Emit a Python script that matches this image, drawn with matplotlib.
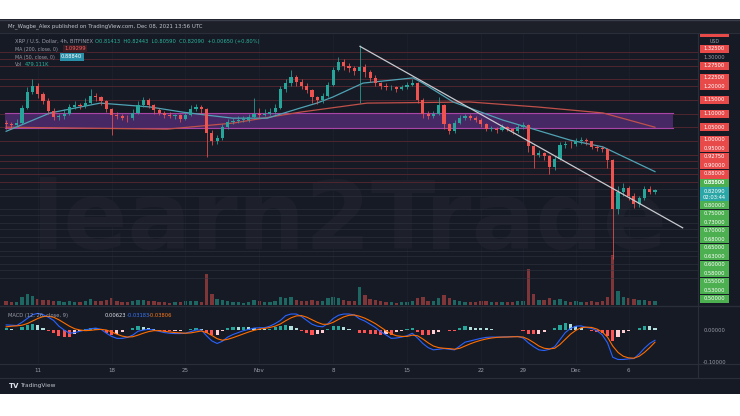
import numpy as np
import pandas as pd
import matplotlib
matplotlib.use('Agg')
import matplotlib.pyplot as plt
import matplotlib.dates as mdates
from matplotlib.patches import Rectangle

# ------------------------------------------------------------------ data
first_open = 1.065
closes = [1.060, 1.057, 1.067, 1.120, 1.180, 1.200, 1.170, 1.145, 1.110, 1.088,
          1.090, 1.100, 1.122, 1.130, 1.128, 1.140, 1.165, 1.160, 1.145, 1.115,
          1.096, 1.090, 1.085, 1.082, 1.103, 1.130, 1.148, 1.130, 1.112, 1.103,
          1.095, 1.092, 1.093, 1.080, 1.095, 1.115, 1.124, 1.118, 1.030, 0.998,
          1.010, 1.050, 1.070, 1.073, 1.077, 1.078, 1.088, 1.100, 1.096, 1.100,
          1.105, 1.120, 1.190, 1.210, 1.235, 1.215, 1.200, 1.185, 1.160, 1.148,
          1.165, 1.205, 1.260, 1.288, 1.275, 1.265, 1.255, 1.270, 1.250, 1.230,
          1.210, 1.200, 1.195, 1.195, 1.190, 1.196, 1.205, 1.210, 1.150, 1.100,
          1.092, 1.098, 1.130, 1.060, 1.035, 1.065, 1.085, 1.090, 1.085, 1.078,
          1.060, 1.045, 1.045, 1.040, 1.050, 1.042, 1.035, 1.052, 1.058, 0.980,
          0.950, 0.955, 0.945, 0.905, 0.935, 0.985, 0.990, 0.987, 1.000, 1.003,
          0.998, 0.978, 0.975, 0.972, 0.930, 0.750, 0.815, 0.830, 0.800, 0.770,
          0.790, 0.825, 0.815, 0.8209]
highs = [1.075, 1.070, 1.080, 1.130, 1.195, 1.226, 1.210, 1.180, 1.155, 1.120,
         1.100, 1.115, 1.135, 1.145, 1.140, 1.155, 1.190, 1.175, 1.165, 1.150,
         1.120, 1.105, 1.100, 1.095, 1.115, 1.145, 1.160, 1.155, 1.135, 1.120,
         1.110, 1.105, 1.100, 1.098, 1.105, 1.130, 1.135, 1.130, 1.120, 1.040,
         1.020, 1.060, 1.080, 1.085, 1.090, 1.090, 1.100, 1.155, 1.120, 1.115,
         1.120, 1.135, 1.200, 1.225, 1.260, 1.240, 1.225, 1.210, 1.190, 1.165,
         1.175, 1.215, 1.270, 1.305, 1.300, 1.285, 1.275, 1.350, 1.280, 1.260,
         1.240, 1.215, 1.210, 1.205, 1.200, 1.205, 1.215, 1.225, 1.215, 1.155,
         1.110, 1.110, 1.160, 1.135, 1.065, 1.075, 1.095, 1.100, 1.098, 1.092,
         1.085, 1.065, 1.055, 1.050, 1.060, 1.055, 1.048, 1.060, 1.068, 1.060,
         0.985, 0.968, 0.960, 0.950, 0.945, 0.995, 1.000, 1.000, 1.012, 1.015,
         1.010, 1.000, 0.985, 0.982, 0.975, 0.935, 0.835, 0.845, 0.835, 0.810,
         0.800, 0.835, 0.835, 0.8244]
lows = [1.045, 1.045, 1.050, 1.060, 1.115, 1.170, 1.155, 1.135, 1.100, 1.075,
        1.075, 1.080, 1.095, 1.115, 1.115, 1.120, 1.135, 1.145, 1.130, 1.105,
        1.020, 1.080, 1.075, 1.070, 1.078, 1.100, 1.125, 1.120, 1.100, 1.095,
        1.085, 1.085, 1.080, 1.070, 1.075, 1.090, 1.110, 1.100, 0.940, 0.985,
        0.990, 1.005, 1.045, 1.060, 1.065, 1.070, 1.070, 1.085, 1.085, 1.090,
        1.095, 1.100, 1.115, 1.180, 1.200, 1.200, 1.190, 1.175, 1.140, 1.135,
        1.140, 1.160, 1.200, 1.255, 1.260, 1.250, 1.240, 1.140, 1.235, 1.215,
        1.200, 1.190, 1.185, 1.185, 1.180, 1.185, 1.190, 1.200, 1.140, 1.085,
        1.080, 1.085, 1.095, 1.045, 1.025, 1.030, 1.060, 1.078, 1.075, 1.070,
        1.050, 1.035, 1.035, 1.030, 1.035, 1.035, 1.025, 1.030, 1.045, 0.960,
        0.900, 0.940, 0.930, 0.880, 0.895, 0.930, 0.975, 0.975, 0.980, 0.990,
        0.985, 0.970, 0.965, 0.960, 0.900, 0.570, 0.735, 0.800, 0.785, 0.755,
        0.760, 0.785, 0.805, 0.8059]
volumes = [30, 25, 28, 70, 90, 75, 50, 40, 45, 35,
           30, 28, 30, 25, 22, 30, 50, 35, 30, 40,
           60, 30, 25, 22, 30, 40, 45, 35, 30, 25,
           22, 20, 22, 25, 30, 35, 30, 28, 260, 90,
           50, 45, 30, 25, 22, 20, 25, 40, 30, 22,
           25, 30, 70, 60, 65, 45, 35, 30, 40, 30,
           35, 55, 70, 60, 45, 35, 30, 150, 80, 50,
           40, 30, 25, 22, 20, 22, 25, 30, 60, 70,
           35, 30, 55, 80, 60, 40, 30, 25, 22, 25,
           30, 35, 25, 22, 25, 22, 25, 30, 35, 300,
           90, 45, 40, 60, 45, 50, 30, 25, 30, 28,
           25, 30, 28, 30, 70, 420, 120, 70, 55, 50,
           40, 45, 35, 30]
macd_line = [0.016, 0.015, 0.014, 0.024, 0.036, 0.048, 0.052, 0.048, 0.040, 0.030,
             0.012, 0.000, -0.010, -0.008, -0.004, 0.000, 0.004, 0.006, 0.002, -0.010,
             -0.020, -0.026, -0.026, -0.023, -0.016, -0.004, 0.000, 0.002, 0.000, -0.004,
             -0.008, -0.010, -0.011, -0.011, -0.010, -0.005, 0.000, 0.000, -0.018, -0.034,
             -0.042, -0.035, -0.022, -0.014, -0.008, -0.002, 0.002, 0.006, 0.007, 0.007,
             0.012, 0.020, 0.030, 0.045, 0.050, 0.050, 0.042, 0.030, 0.018, 0.012,
             0.010, 0.020, 0.036, 0.046, 0.050, 0.050, 0.047, 0.035, 0.028, 0.018,
             0.008, -0.005, -0.015, -0.026, -0.025, -0.022, -0.018, -0.010, -0.025, -0.042,
             -0.055, -0.062, -0.060, -0.058, -0.060, -0.062, -0.050, -0.038, -0.034, -0.030,
             -0.026, -0.023, -0.022, -0.022, -0.022, -0.021, -0.021, -0.020, -0.025, -0.040,
             -0.052, -0.062, -0.064, -0.060, -0.052, -0.030, -0.008, 0.005, 0.012, 0.013,
             0.008, 0.005, -0.002, -0.015, -0.040, -0.085, -0.092, -0.092, -0.090, -0.089,
             -0.075, -0.057, -0.042, -0.032]
signal_line = [0.010, 0.012, 0.013, 0.015, 0.020, 0.028, 0.036, 0.042, 0.043, 0.040,
               0.032, 0.022, 0.012, 0.004, 0.000, -0.002, -0.001, 0.001, 0.002, 0.000,
               -0.006, -0.013, -0.019, -0.022, -0.021, -0.016, -0.010, -0.005, -0.002, -0.002,
               -0.004, -0.006, -0.008, -0.009, -0.010, -0.009, -0.006, -0.003, -0.008, -0.017,
               -0.027, -0.032, -0.029, -0.024, -0.018, -0.012, -0.006, -0.001, 0.003, 0.005,
               0.008, 0.012, 0.019, 0.029, 0.038, 0.044, 0.045, 0.040, 0.032, 0.024,
               0.018, 0.018, 0.024, 0.033, 0.041, 0.046, 0.047, 0.043, 0.037, 0.029,
               0.020, 0.009, -0.002, -0.012, -0.018, -0.020, -0.020, -0.016, -0.018, -0.028,
               -0.040, -0.050, -0.055, -0.057, -0.058, -0.060, -0.057, -0.050, -0.043, -0.037,
               -0.032, -0.028, -0.025, -0.023, -0.022, -0.022, -0.021, -0.021, -0.022, -0.029,
               -0.039, -0.050, -0.057, -0.059, -0.057, -0.045, -0.029, -0.013, -0.001, 0.007,
               0.009, 0.008, 0.003, -0.006, -0.022, -0.050, -0.070, -0.082, -0.087, -0.088,
               -0.082, -0.070, -0.055, -0.038]

ma50_times = ['2021-10-08 00:00', '2021-10-12 04:00', '2021-10-16 22:00', '2021-10-21 15:00',
              '2021-10-24 18:00', '2021-10-27 01:00', '2021-10-29 12:00', '2021-11-01 18:00',
              '2021-11-04 21:00', '2021-11-06 11:00', '2021-11-07 23:00', '2021-11-10 20:00',
              '2021-11-15 14:00', '2021-11-16 12:00', '2021-11-19 09:00', '2021-11-24 02:00',
              '2021-11-26 09:00', '2021-11-30 11:00', '2021-12-03 14:00', '2021-12-08 12:00']
ma50_values = [1.035, 1.102, 1.138, 1.124, 1.105, 1.094, 1.083, 1.083, 1.120, 1.138,
               1.160, 1.211, 1.230, 1.211, 1.142, 1.076, 1.050, 1.003, 0.978, 0.888]
ma200_times = ['2021-10-08 00:00', '2021-10-23 06:00', '2021-10-29 12:00', '2021-11-04 21:00',
               '2021-11-11 05:00', '2021-11-20 23:00', '2021-11-27 08:00', '2021-12-03 14:00',
               '2021-12-08 12:00']
ma200_values = [1.050, 1.043, 1.065, 1.105, 1.138, 1.142, 1.124, 1.102, 1.050]

trend_times = ['2021-11-10 13:00', '2021-12-11 03:00']
trend_prices = [1.345, 0.683]
zone_times = ['2021-10-07 22:00', '2021-12-10 05:00']
zone_low, zone_high = 1.047, 1.102

levels_above = [1.325, 1.30, 1.275, 1.225, 1.20, 1.15, 1.10, 1.05, 1.00, 0.95,
                0.9275, 0.90, 0.88, 0.85]
levels_below = [0.825, 0.80, 0.75, 0.73, 0.70, 0.68, 0.65, 0.63, 0.60, 0.58,
                0.55, 0.53, 0.50]
plain_levels = [1.30]
last_price = 0.8209
countdown = '02:03:44'

tick_dates = ['2021-10-11', '2021-10-18', '2021-10-25', '2021-11-01', '2021-11-08',
              '2021-11-15', '2021-11-22', '2021-11-26', '2021-12-01', '2021-12-06']
tick_labels = ['11', '18', '25', 'Nov', '8', '15', '22', '29', 'Dec', '6']

header = 'Mr_Wagbe_Alex published on TradingView.com, Dec 08, 2021 13:56 UTC'
symbol_text = 'XRP / U.S. Dollar, 4h, BITFINEX'
ohlc_text = 'O0.81413  H0.82443  L0.80590  C0.82090  +0.00650 (+0.80%)'
ma200_label, ma200_last = 'MA (200, close, 0)', '1.09299'
ma50_label, ma50_last = 'MA (50, close, 0)', '0.88840'
vol_label, vol_last = 'Vol', '479.111K'
macd_label = 'MACD (12, 26, close, 9)'
macd_vals = ['0.00623', '-0.03183', '-0.03806']
macd_axis_vals = [0.0, -0.1]

# ------------------------------------------------------------------ layout
W, H = 740, 416
BG = '#161a24'
UP, DN = '#26a69a', '#ef5350'
TXT = '#9a9daa'

fig = plt.figure(figsize=(W / 100, H / 100), dpi=100, facecolor='white')


def fx(px):
    return px / W


def fy(py):
    return 1 - py / H


def rect(x0, y0, x1, y1, color, z=-1, alpha=1.0):
    fig.add_artist(Rectangle((fx(x0), fy(y1)), fx(x1) - fx(x0), fy(y0) - fy(y1),
                             transform=fig.transFigure, facecolor=color,
                             edgecolor='none', zorder=z, alpha=alpha))


def hline(y, x0, x1, color='#2a2e39', lw=0.8, z=3):
    fig.add_artist(plt.Line2D([fx(x0), fx(x1)], [fy(y), fy(y)], transform=fig.transFigure,
                              color=color, lw=lw, zorder=z))


def vline(x, y0, y1, color='#2a2e39', lw=0.8, z=3):
    fig.add_artist(plt.Line2D([fx(x), fx(x)], [fy(y0), fy(y1)], transform=fig.transFigure,
                              color=color, lw=lw, zorder=z))


rect(0, 19, 740, 394, BG, z=-2)
rect(0, 19, 740, 33, '#1d2029', z=-1.5)
hline(19.5, 0, 740, '#3a3e4a', 1.0)
hline(33, 0, 740, '#2a2e39', 0.8)
hline(306, 0, 740, '#2a2e39', 1.0)
hline(364, 0, 740, '#2a2e39', 0.8)
hline(378, 0, 740, '#2a2e39', 0.8)
vline(698, 33, 378, '#2a2e39', 0.8)

base = mdates.date2num(pd.Timestamp('2021-10-01'))
t_left, t_right = base + 6.42, base + 72.58
P_BOT, P_TOP = 0.4013, 1.3938
M_BOT, M_TOP = -0.103, 0.0719

price_rect = [0, fy(305), fx(698), fy(33) - fy(305)]
axv = fig.add_axes(price_rect, zorder=0)
ax = fig.add_axes(price_rect, zorder=1)
axm = fig.add_axes([0, fy(363), fx(698), fy(307) - fy(363)], zorder=1)
for a in (ax, axv, axm):
    a.set_facecolor('none')
    a.set_xlim(t_left, t_right)
    for s in a.spines.values():
        s.set_visible(False)
    a.set_xticks([])
    a.set_yticks([])
ax.set_ylim(P_BOT, P_TOP)
axm.set_ylim(M_BOT, M_TOP)
axv.set_ylim(0, max(volumes) * 272 / 50)

t = mdates.date2num(pd.date_range('2021-10-08 00:00', periods=len(closes), freq='12h'))
opens = [first_open] + closes[:-1]
up = np.array(closes) >= np.array(opens)
ccol = np.where(up, UP, DN)

# vertical grid
tick_nums = mdates.date2num(pd.to_datetime(tick_dates))
for tn in tick_nums:
    for a in (ax, axm):
        a.axvline(tn, color='#1d212d', lw=0.6, zorder=0)

# watermark
axv.text(0.5, 0.30, 'learn2Trade', transform=axv.transAxes, ha='center', va='center',
         fontsize=68, fontweight='bold', color='#1d202b', zorder=0)

# level lines
for p in levels_above:
    ax.axhline(p, color='#4e2630', lw=0.7, zorder=1)
for p in levels_below:
    ax.axhline(p, color='#33374280', lw=0.7, zorder=1)

# zone
zt = mdates.date2num(pd.to_datetime(zone_times))
ax.fill_between(zt, zone_low, zone_high, color='#4b2a6c', alpha=0.9, lw=0, zorder=1.5)
ax.plot(zt, [zone_low, zone_low], color='#a845a8', lw=0.8, zorder=1.6)
ax.plot(zt, [zone_high, zone_high], color='#a845a8', lw=0.8, zorder=1.6)

# volume
vcol = np.where(up, '#1f6f69', '#8a3a3c')
axv.bar(t, volumes, width=0.32, color=vcol, alpha=0.9, zorder=1)

# moving averages
ax.plot(mdates.date2num(pd.to_datetime(ma200_times)), ma200_values, color='#c0504a', lw=0.9, zorder=2)
ax.plot(mdates.date2num(pd.to_datetime(ma50_times)), ma50_values, color='#4fa3b5', lw=0.9, zorder=2)

# candles
ax.vlines(t, lows, highs, colors=ccol, lw=0.55, zorder=3)
body_bottom = np.minimum(opens, closes)
body_h = np.maximum(np.abs(np.array(closes) - np.array(opens)), 0.002)
ax.bar(t, body_h, bottom=body_bottom, width=0.3, color=ccol, zorder=3.5)

# trendline
ax.plot(mdates.date2num(pd.to_datetime(trend_times)), trend_prices, color='#c8cad0', lw=0.9, zorder=4)

# MACD
hist = np.array(macd_line) - np.array(signal_line)
hcol = []
for i, h in enumerate(hist):
    prev = hist[i - 1] if i > 0 else 0
    if h >= 0:
        hcol.append('#26a69a' if h >= prev else '#b2dfdb')
    else:
        hcol.append('#ff5252' if h <= prev else '#ffcdd2')
axm.bar(t, hist, width=0.3, color=hcol, zorder=2)
axm.plot(t, macd_line, color='#2962ff', lw=0.8, zorder=3)
axm.plot(t, signal_line, color='#ff6d00', lw=0.8, zorder=3)

# ------------------------------------------------------------------ texts
fs = 3.7
fig.text(fx(8), fy(26.5), header, fontsize=3.9, color='#c0c3cc', va='center')
fig.text(fx(15), fy(41), symbol_text, fontsize=fs, color=TXT, va='center')
fig.text(fx(95), fy(41), ohlc_text, fontsize=fs, color='#2bb39f', va='center')
fig.text(fx(15), fy(49), ma200_label, fontsize=3.4, color=TXT, va='center')
fig.text(fx(64), fy(49), ma200_last, fontsize=fs, color='#ff5a5a', va='center',
         bbox=dict(boxstyle='square,pad=0.25', fc='#3a1e25', ec='none'))
fig.text(fx(15), fy(57), ma50_label, fontsize=3.4, color=TXT, va='center')
fig.text(fx(61), fy(57), ma50_last, fontsize=fs, color='white', va='center',
         bbox=dict(boxstyle='square,pad=0.25', fc='#2a8fa8', ec='none'))
fig.text(fx(15), fy(65), vol_label, fontsize=3.4, color=TXT, va='center')
fig.text(fx(25), fy(65), vol_last, fontsize=fs, color='#2bb39f', va='center')

fig.text(fx(8), fy(315.5), macd_label, fontsize=fs, color=TXT, va='center')
for xv, txt, col in zip([105, 127, 149], macd_vals, ['#e0e3eb', '#3b78ff', '#ff7b1a']):
    fig.text(fx(xv), fy(315.5), txt, fontsize=fs, color=col, va='center')

# MACD axis labels
for v in macd_axis_vals:
    yd = H - axm.transData.transform((t_left, v))[1]
    fig.text(fx(715), fy(yd), f'{v:.5f}', fontsize=fs, color=TXT, ha='center', va='center')

# time labels
for tn, lab in zip(tick_nums, tick_labels):
    xd = ax.transData.transform((tn, 1.0))[0]
    fig.text(xd / W, fy(370.5), lab, fontsize=4.0, color=TXT, ha='center', va='center')

fig.text(fx(9), fy(386), 'TV', fontsize=5, color='#e0e3eb', fontweight='bold', va='center')
fig.text(fx(20), fy(386), 'TradingView', fontsize=4.2, color='#c0c3cc', va='center')

# price scale labels (stacked like TradingView)


def nat(p):
    return H - ax.transData.transform((t_left, p))[1]


GAP = 8.5
BX0, BX1 = 700, 729
cur_c = nat(last_price) + 1
cur_top, cur_bot = cur_c - 4.25, cur_c + 10
rect(BX0, cur_top + 0.4, BX1, cur_bot - 0.4, '#2aa6a6', z=5)
fig.text(fx((BX0 + BX1) / 2), fy(cur_c), f'{last_price:.5f}', fontsize=fs, color='white',
         ha='center', va='center', zorder=6)
fig.text(fx((BX0 + BX1) / 2), fy(cur_c + 6), countdown, fontsize=fs, color='white',
         ha='center', va='center', zorder=6)

limit = cur_top - GAP / 2
for p in sorted(levels_above):
    y = min(nat(p), limit)
    limit = y - GAP
    if p in plain_levels:
        fig.text(fx((BX0 + BX1) / 2), fy(y), f'{p:.5f}', fontsize=fs, color=TXT,
                 ha='center', va='center', zorder=6)
        continue
    rect(BX0, y - 4.0, BX1, y + 4.0, '#e84a4a', z=5)
    fig.text(fx((BX0 + BX1) / 2), fy(y), f'{p:.5f}', fontsize=fs, color='white',
             ha='center', va='center', zorder=6)

limit = cur_bot + GAP / 2
for p in sorted(levels_below, reverse=True):
    if p > last_price:
        continue
    y = max(nat(p), limit)
    limit = y + GAP
    rect(BX0, y - 4.0, BX1, y + 4.0, '#4caf50', z=5)
    fig.text(fx((BX0 + BX1) / 2), fy(y), f'{p:.5f}', fontsize=fs, color='white',
             ha='center', va='center', zorder=6)

# 0.825 sits just above the current price
p = 0.825
y = min(nat(p), cur_top - GAP / 2)
rect(BX0, y - 4.0, BX1, y + 4.0, '#4caf50', z=5)
fig.text(fx((BX0 + BX1) / 2), fy(y), f'{p:.5f}', fontsize=fs, color='white',
         ha='center', va='center', zorder=6)

# clipped label at the top and currency tag
rect(BX0, 33.5, BX1, 36.5, '#e84a4a', z=5)
fig.text(fx(715), fy(41.5), 'USD', fontsize=3.4, color=TXT, ha='center', va='center')

fig.savefig('out.png', dpi=100, facecolor='white')
